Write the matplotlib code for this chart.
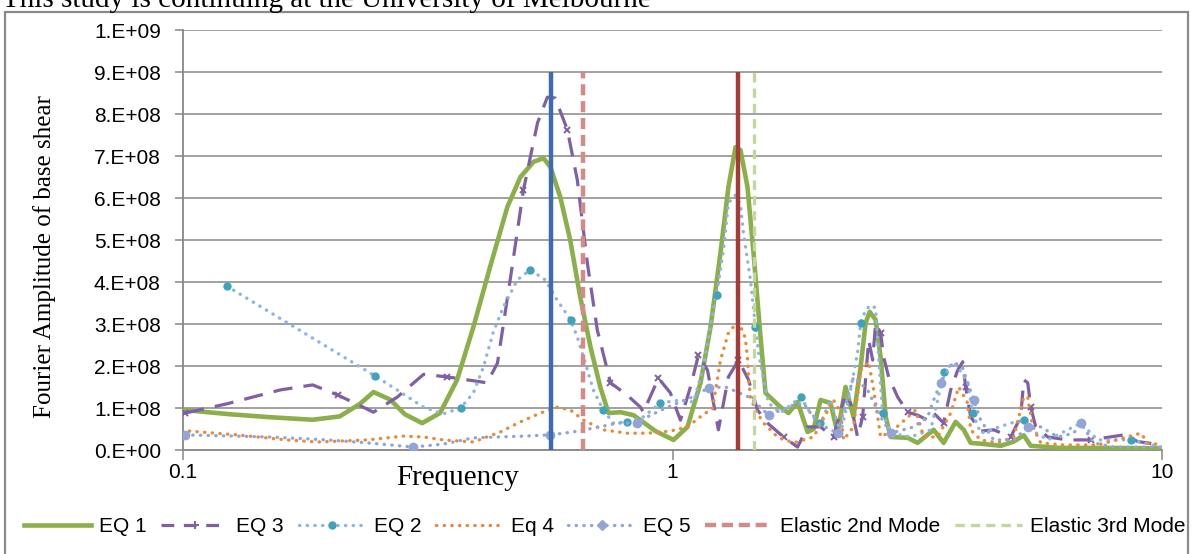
import matplotlib.pyplot as plt
from matplotlib.lines import Line2D
from matplotlib.patches import Rectangle
from matplotlib.ticker import FuncFormatter, FixedLocator, NullLocator
import numpy as np

# Fourier amplitude of base shear
# frequency in Hz, amplitude in units of 1e8
eq1_f = [0.101, 0.125, 0.151, 0.184, 0.209, 0.230, 0.245, 0.265, 0.284, 0.308,
         0.335, 0.363, 0.392, 0.424, 0.460, 0.489, 0.520, 0.545, 0.563, 0.590,
         0.618, 0.648, 0.680, 0.712, 0.740, 0.783, 0.832, 0.860, 0.923, 1.005,
         1.073, 1.141, 1.196, 1.253, 1.301, 1.345, 1.377, 1.423, 1.464, 1.513,
         1.549, 1.662, 1.726, 1.801, 1.888, 1.942, 2.006, 2.103, 2.174, 2.257,
         2.343, 2.423, 2.480, 2.528, 2.600, 2.662, 2.726, 2.790, 3.023, 3.168,
         3.416, 3.580, 3.788, 3.935, 4.066, 4.262, 4.684, 4.979, 5.219, 5.393,
         6.21, 7.50, 10.0]
eq1_a = [0.95, 0.85, 0.78, 0.72, 0.80, 1.10, 1.38, 1.20, 0.85, 0.64,
         0.88, 1.67, 2.93, 4.36, 5.79, 6.50, 6.86, 6.95, 6.74, 6.02,
         5.00, 3.64, 2.45, 1.50, 0.88, 0.90, 0.83, 0.71, 0.45, 0.24,
         0.55, 1.60, 2.93, 4.69, 6.26, 7.21, 7.14, 6.26, 4.69, 2.69,
         1.36, 1.02, 0.88, 1.14, 0.43, 0.50, 1.19, 1.12, 0.40, 1.50,
         0.79, 1.98, 3.02, 3.29, 3.10, 2.21, 0.79, 0.31, 0.29, 0.17,
         0.48, 0.17, 0.67, 0.48, 0.17, 0.15, 0.10, 0.20, 0.35, 0.10,
         0.05, 0.05, 0.04]

eq3_f = [0.101, 0.123, 0.158, 0.184, 0.207, 0.245, 0.274, 0.310, 0.347, 0.418,
         0.439, 0.466, 0.496, 0.530, 0.555, 0.576, 0.610, 0.639, 0.670, 0.702,
         0.747, 0.809, 0.860, 0.872, 0.936, 0.990, 1.038, 1.088, 1.130, 1.179,
         1.241, 1.301, 1.364, 1.430, 1.492, 1.564, 1.686, 1.801, 1.888, 2.006,
         2.133, 2.236, 2.311, 2.388, 2.446, 2.516, 2.564, 2.600, 2.662, 2.700,
         2.764, 2.884, 3.023, 3.168, 3.321, 3.416, 3.580, 3.701, 3.825, 3.916,
         3.971, 4.066, 4.262, 4.531, 4.908, 5.145, 5.219, 5.318, 5.393, 5.522,
         5.843, 6.417, 7.152, 8.358, 8.926, 10.0]
eq3_a = [0.88, 1.10, 1.43, 1.55, 1.31, 0.90, 1.26, 1.80, 1.74, 1.60,
         2.07, 4.05, 6.19, 7.79, 8.40, 8.38, 7.62, 6.43, 4.45, 2.86,
         1.60, 1.30, 1.02, 0.90, 1.71, 1.36, 0.71, 1.50, 2.26, 1.90,
         0.48, 1.74, 2.14, 1.67, 0.95, 0.64, 0.31, 0.07, 0.55, 0.55,
         0.30, 1.19, 1.12, 0.31, 0.79, 2.62, 2.14, 3.02, 2.79, 2.21,
         1.74, 1.26, 0.90, 0.83, 0.71, 0.88, 0.64, 1.43, 1.90, 2.10,
         1.50, 0.79, 0.45, 0.48, 0.31, 0.79, 1.67, 1.60, 1.02, 0.55,
         0.31, 0.24, 0.24, 0.36, 0.20, 0.12]

eq2_f = [0.123, 0.247, 0.278, 0.310, 0.340, 0.369, 0.392, 0.411, 0.430, 0.451,
         0.482, 0.512, 0.550, 0.576, 0.619, 0.639, 0.658, 0.689, 0.722, 0.757,
         0.809, 0.872, 0.945, 1.038, 1.104, 1.157, 1.196, 1.230, 1.271, 1.301,
         1.345, 1.377, 1.396, 1.423, 1.443, 1.477, 1.499, 1.535, 1.571, 1.662,
         1.827, 1.914, 2.006, 2.103, 2.205, 2.311, 2.388, 2.423, 2.480, 2.540,
         2.600, 2.637, 2.687, 2.790, 3.066, 3.368, 3.481, 3.580, 3.736, 3.843,
         4.009, 4.105, 4.262, 4.908, 5.219, 5.393, 5.843, 6.823, 7.391, 8.637,
         10.0]
eq2_a = [3.90, 1.76, 1.38, 1.02, 0.86, 1.00, 1.36, 1.98, 2.79, 3.40,
         4.05, 4.29, 4.05, 3.64, 3.10, 2.69, 2.21, 1.43, 0.95, 0.64,
         0.67, 0.79, 1.12, 1.19, 1.14, 2.00, 3.00, 3.69, 4.76, 5.88,
         6.07, 5.83, 5.17, 4.52, 4.05, 2.93, 2.31, 1.67, 1.12, 0.88,
         1.26, 0.88, 0.64, 1.19, 0.40, 1.43, 2.31, 3.02, 3.33, 3.45,
         3.38, 2.21, 0.88, 0.40, 0.31, 0.48, 1.19, 1.86, 2.07, 1.95,
         1.60, 0.88, 0.40, 0.64, 0.71, 0.48, 0.24, 0.64, 0.24, 0.24,
         0.07]
eq2_marks = [0, 1, 5, 11, 14, 18, 20, 22, 27, 35, 40, 42, 47, 52, 57, 61, 64, 67, 69]

eq4_f = [0.103, 0.129, 0.163, 0.188, 0.238, 0.282, 0.310, 0.340, 0.392, 0.445,
         0.489, 0.537, 0.582, 0.619, 0.658, 0.722, 0.809, 0.889, 0.990, 1.073,
         1.157, 1.207, 1.236, 1.253, 1.301, 1.358, 1.396, 1.410, 1.423, 1.430,
         1.443, 1.477, 1.535, 1.639, 1.767, 1.942, 2.133, 2.205, 2.236, 2.343,
         2.423, 2.516, 2.576, 2.662, 2.830, 3.138, 3.259, 3.481, 3.701, 3.843,
         4.009, 4.066, 4.262, 4.617, 4.979, 5.219, 5.318, 5.444, 5.653, 6.296,
         7.391, 9.053, 9.357, 10.0]
eq4_a = [0.45, 0.36, 0.24, 0.19, 0.24, 0.33, 0.31, 0.24, 0.19, 0.43,
         0.67, 0.88, 1.02, 0.95, 0.71, 0.48, 0.40, 0.40, 0.45, 0.55,
         0.85, 0.98, 1.71, 2.14, 2.79, 3.05, 2.81, 2.62, 2.19, 1.74,
         1.26, 0.95, 0.64, 0.31, 0.17, 0.31, 1.19, 0.90, 0.24, 0.55,
         1.90, 2.10, 1.43, 0.31, 0.48, 0.95, 0.31, 0.31, 0.88, 1.50,
         1.12, 0.48, 0.24, 0.17, 0.31, 1.26, 1.26, 0.55, 0.17, 0.12,
         0.12, 0.40, 0.17, 0.12]

eq5_f = [0.101, 0.151, 0.197, 0.238, 0.295, 0.340, 0.392, 0.496, 0.563, 0.627,
         0.689, 0.772, 0.848, 0.889, 0.977, 1.088, 1.185, 1.283, 1.358, 1.443,
         1.571, 1.767, 1.852, 1.978, 2.174, 2.343, 2.504, 2.662, 2.790, 3.109,
         3.321, 3.416, 3.530, 3.649, 3.753, 3.916, 4.125, 4.262, 4.531, 4.979,
         5.318, 5.653, 6.124, 6.602, 6.823, 7.253, 7.974, 10.0]
eq5_a = [0.36, 0.31, 0.24, 0.17, 0.07, 0.14, 0.29, 0.33, 0.36, 0.43,
         0.52, 0.64, 0.64, 0.79, 1.02, 1.24, 1.48, 1.50, 1.38, 1.24,
         0.83, 1.07, 1.12, 0.64, 0.40, 1.74, 1.43, 0.79, 0.40, 0.55,
         0.79, 1.19, 1.60, 1.90, 2.10, 1.95, 1.19, 0.71, 0.24, 0.24,
         0.55, 0.55, 0.31, 0.40, 0.64, 0.17, 0.07, 0.07]

# vertical marker lines: (frequency, label)
mode_f = [0.565, 0.657, 1.358, 1.464]
mode_labels = [None, 'Elastic 2nd Mode', None, 'Elastic 3rd Mode']
mode_top = 9e8

scale = 1e8

c_eq1 = '#8BB04A'
c_eq3 = '#7F5FA5'
c_eq2 = '#8DB4E3'
c_eq2m = '#3FA3BE'
c_eq4 = '#EE8736'
c_eq5 = '#93A5D6'
c_grid = '#878787'

fig = plt.figure(figsize=(11.93, 5.54), dpi=100)
ax = fig.add_axes([183/1193, 1-450/554, (1162-183)/1193, (450-30)/554])

ax.plot(eq1_f, np.array(eq1_a)*scale, color=c_eq1, lw=3.3, solid_joinstyle='round', zorder=3)
ax.plot(eq3_f, np.array(eq3_a)*scale, color=c_eq3, lw=2.3, dashes=(6, 3.5),
        marker='x', ms=5, mew=1.4, markevery=4, zorder=3)
ax.plot(eq2_f, np.array(eq2_a)*scale, color=c_eq2, lw=2.4, dashes=(0.1, 2.2),
        dash_capstyle='round', marker='o', ms=5, mfc=c_eq2m, mec=c_eq2m,
        markevery=eq2_marks, zorder=3)
ax.plot(eq4_f, np.array(eq4_a)*scale, color=c_eq4, lw=2.4, dashes=(0.1, 2.2),
        dash_capstyle='round', zorder=3)
ax.plot(eq5_f, np.array(eq5_a)*scale, color=c_eq5, lw=2.4, dashes=(0.1, 2.2),
        dash_capstyle='round', marker='o', ms=6, mfc=c_eq5, mec=c_eq5,
        markevery=4, zorder=3)

ax.vlines(mode_f[0], 0, mode_top, color='#3E6BAE', lw=3.2, zorder=4)
ax.vlines(mode_f[1], 0, mode_top, color='#D58A88', lw=3.2, linestyles=(0, (2.5, 1.3)), zorder=4)
ax.vlines(mode_f[2], 0, mode_top, color='#A63A38', lw=3.2, zorder=4)
ax.vlines(mode_f[3], 0, mode_top, color='#C3D69B', lw=2.4, linestyles=(0, (2.8, 1.8)), zorder=4)

ax.set_xscale('log')
ax.set_xlim(0.1, 10)
ax.set_ylim(0, 1e9)
ax.xaxis.set_major_locator(FixedLocator([0.1, 1, 10]))
ax.xaxis.set_minor_locator(NullLocator())
ax.xaxis.set_major_formatter(FuncFormatter(lambda v, p: f'{v:g}'))
ax.set_yticks(np.arange(0, 11) * 1e8)


def sci_label(v, pos):
    if v == 0:
        return '0.E+00'
    e = int(np.floor(np.log10(v) + 1e-9))
    return f'{v / 10**e:.0f}.E+{e:02d}'


ax.yaxis.set_major_formatter(FuncFormatter(sci_label))

ax.yaxis.grid(True, color=c_grid, lw=1.1)
ax.set_axisbelow(True)
for s in ['top', 'right']:
    ax.spines[s].set_visible(False)
for s in ['left', 'bottom']:
    ax.spines[s].set_color(c_grid)
    ax.spines[s].set_linewidth(1.3)
ax.tick_params(axis='y', direction='out', length=6, width=1.1, color=c_grid,
               labelsize=15, pad=10)
ax.tick_params(axis='x', direction='out', length=7, width=1.1, color=c_grid,
               labelsize=15, pad=2)
for t in ax.get_xticklabels() + ax.get_yticklabels():
    t.set_fontfamily(['Liberation Sans'])

fig.text(45/1193, 1-257/554, 'Fourier Amplitude of base shear', rotation=90,
         ha='center', va='center', fontsize=18, family='Liberation Serif')
fig.text(458/1193, 1-478/554, 'Frequency', ha='center', va='center',
         fontsize=21, family='Liberation Serif')
fig.text(2/1193, 1-7/554, 'This study is continuing at the University of Melbourne',
         ha='left', va='baseline', fontsize=21, family='Liberation Serif')

# chart border
fig.add_artist(Rectangle((5/1193, -0.05), (1188-5)/1193, 1.05-12/554, fill=False,
                         edgecolor='#8A8A8A', lw=1.6, transform=fig.transFigure))

handles = [
    Line2D([], [], color=c_eq1, lw=3.3),
    Line2D([], [], color=c_eq3, lw=2.3, dashes=(4, 3), marker='+', ms=6, mew=1.4),
    Line2D([], [], color=c_eq2, lw=2.4, dashes=(0.1, 2.2), dash_capstyle='round',
           marker='o', ms=5, mfc=c_eq2m, mec=c_eq2m),
    Line2D([], [], color=c_eq4, lw=2.4, dashes=(0.1, 2.2), dash_capstyle='round'),
    Line2D([], [], color=c_eq5, lw=2.4, dashes=(0.1, 2.2), dash_capstyle='round',
           marker='D', ms=5, mfc=c_eq5, mec=c_eq5),
    Line2D([], [], color='#D58A88', lw=3.2, dashes=(2.5, 1.3)),
    Line2D([], [], color='#C3D69B', lw=2.4, dashes=(2.8, 1.8)),
]
labels = ['EQ 1', 'EQ 3', 'EQ 2', 'Eq 4', 'EQ 5', mode_labels[1], mode_labels[3]]
fig.legend(handles, labels, loc='center', bbox_to_anchor=(605/1193, 1-527/554),
           ncol=7, frameon=False, numpoints=1, handlelength=3.2, handletextpad=0.4,
           columnspacing=0.7, prop={'family': 'Liberation Sans', 'size': 15})

fig.savefig('out.png', dpi=100)
